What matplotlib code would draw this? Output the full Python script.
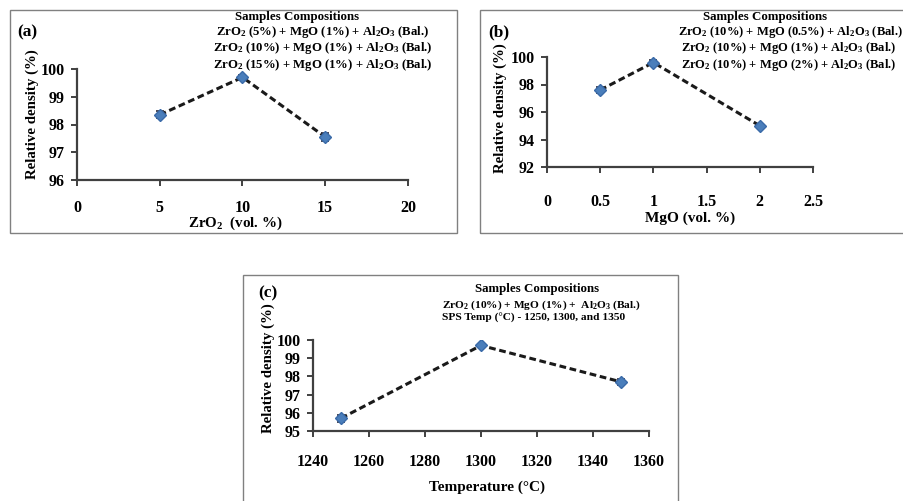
import matplotlib
matplotlib.use("Agg")
import matplotlib.pyplot as plt
from matplotlib.patches import Rectangle

plt.rcParams['font.family'] = ['Liberation Serif', 'DejaVu Serif']
plt.rcParams['font.weight'] = 'bold'
plt.rcParams['mathtext.default'] = 'regular'

W, H = 904, 501

# ---- data ----
zro2_x = [5, 10, 15]
zro2_y = [98.35, 99.7, 97.55]
zro2_err = [0.12, 0.08, 0.15]

mgo_x = [0.5, 1, 2]
mgo_y = [97.6, 99.6, 95.0]
mgo_err = [0.2, 0.15, 0.15]

temp_x = [1250, 1300, 1350]
temp_y = [95.7, 99.7, 97.7]
temp_err = [0.2, 0.1, 0.15]

legend_a = ["ZrO$_2$ (5%) + MgO (1%) + Al$_2$O$_3$ (Bal.)",
            "ZrO$_2$ (10%) + MgO (1%) + Al$_2$O$_3$ (Bal.)",
            "ZrO$_2$ (15%) + MgO (1%) + Al$_2$O$_3$ (Bal.)"]
legend_b = ["ZrO$_2$ (10%) + MgO (0.5%) + Al$_2$O$_3$ (Bal.)",
            "ZrO$_2$ (10%) + MgO (1%) + Al$_2$O$_3$ (Bal.)",
            "ZrO$_2$ (10%) + MgO (2%) + Al$_2$O$_3$ (Bal.)"]
legend_c = ["ZrO$_2$ (10%) + MgO (1%) +  Al$_2$O$_3$ (Bal.)",
            "SPS Temp (°C) - 1250, 1300, and 1350"]

fig = plt.figure(figsize=(W / 100, H / 100), dpi=100)


def fx(x):
    return x / W


def fy(y):
    return 1 - y / H


def box(x0, y0, x1, y1):
    fig.patches.append(Rectangle((fx(x0), fy(y1)), fx(x1 - x0), (y1 - y0) / H,
                                 transform=fig.transFigure, fill=False,
                                 edgecolor='#808080', lw=1.0))


def make_axes(x0, x1, ytop, ybot):
    return fig.add_axes([fx(x0), fy(ybot), fx(x1 - x0), (ybot - ytop) / H])


def style(ax, xlim, ylim, xticks, yticks, xlabels, pad_x):
    ax.set_xlim(*xlim)
    ax.set_ylim(*ylim)
    ax.set_xticks(xticks)
    ax.set_xticklabels(xlabels)
    ax.set_yticks(yticks)
    for s in ['top', 'right']:
        ax.spines[s].set_visible(False)
    for s in ['left', 'bottom']:
        ax.spines[s].set_color('#404040')
        ax.spines[s].set_linewidth(1.6)
    ax.tick_params(axis='x', direction='out', length=4, width=1.4, color='#404040',
                   pad=pad_x, labelsize=11.5)
    ax.tick_params(axis='y', direction='out', length=4, width=1.4, color='#404040',
                   pad=5, labelsize=11.5)
    ax.patch.set_alpha(0)
    for lab in ax.get_xticklabels() + ax.get_yticklabels():
        lab.set_fontweight('bold')


def plot_series(ax, x, y, err):
    ax.plot(x, y, color='#1a1a1a', lw=2.2, ls=(0, (2.2, 1.2)), zorder=2)
    ax.errorbar(x, y, yerr=err, fmt='none', ecolor='#2a2a3a', elinewidth=1.2,
                capsize=3, capthick=1.2, zorder=3)
    ax.plot(x, y, ls='none', marker='D', ms=6, color='#4a7ebb',
            markeredgecolor='#3a6aa8', zorder=4)


def txt(x, y, s, size=8, ha='center', va='center', **kw):
    fig.text(fx(x), fy(y), s, fontsize=size, ha=ha, va=va, fontweight='bold', **kw)


# ---- panel (a) ----
box(10, 10, 457, 233)
axa = make_axes(77, 408, 69, 180)
style(axa, (0, 20), (96, 100), [0, 5, 10, 15, 20], [96, 97, 98, 99, 100],
      ['0', '5', '10', '15', '20'], 10.5)
plot_series(axa, zro2_x, zro2_y, zro2_err)
txt(17, 32, '(a)', size=12.5, ha='left')
txt(297, 17, 'Samples Compositions', size=9.3)
for yy, s in zip([32, 48, 65], legend_a):
    txt(323, yy, s, size=9.2)
txt(32, 114, 'Relative density (%)', size=10.7, rotation=90)
txt(235, 223, 'ZrO$_2$  (vol. %)', size=10.8)

# ---- panel (b) ----
box(480, 10, 910, 233)
axb = make_axes(547, 813, 57, 167)
style(axb, (0, 2.5), (92, 100), [0, 0.5, 1, 1.5, 2, 2.5], [92, 94, 96, 98, 100],
      ['0', '0.5', '1', '1.5', '2', '2.5'], 15.5)
plot_series(axb, mgo_x, mgo_y, mgo_err)
txt(488, 32, '(b)', size=12.5, ha='left')
txt(765, 17, 'Samples Compositions', size=9.3)
for yy, s, xx in zip([32, 48, 65], legend_b, [678, 681, 681]):
    txt(xx, yy, s, size=9.0, ha='left')
txt(500, 108, 'Relative density (%)', size=10.7, rotation=90)
txt(690, 218, 'MgO (vol. %)', size=11)

# ---- panel (c) ----
box(243, 275, 678, 510)
axc = make_axes(313, 649, 340, 431)
style(axc, (1240, 1360), (95, 100), [1240, 1260, 1280, 1300, 1320, 1340, 1360],
      [95, 96, 97, 98, 99, 100],
      ['1240', '1260', '1280', '1300', '1320', '1340', '1360'], 12.5)
plot_series(axc, temp_x, temp_y, temp_err)
txt(258, 293, '(c)', size=12.5, ha='left')
txt(537, 289, 'Samples Compositions', size=9.3)
for yy, s in zip([305, 318], legend_c):
    txt(442, yy, s, size=8.2, ha='left')
txt(268, 368, 'Relative density (%)', size=10.7, rotation=90)
txt(487, 487, 'Temperature (°C)', size=11)

fig.savefig('out.png', dpi=100, facecolor='white')
